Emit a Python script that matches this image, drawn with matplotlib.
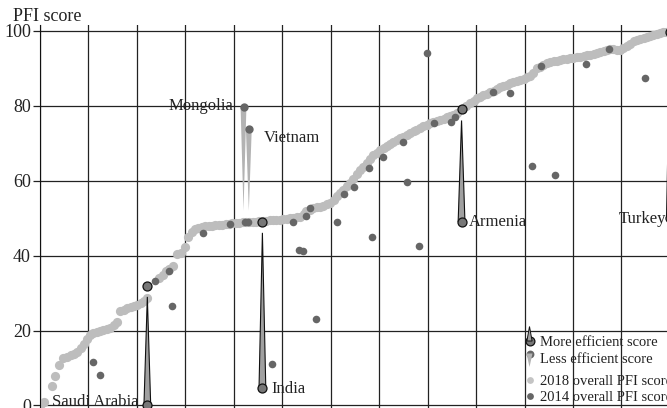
import matplotlib
matplotlib.use("Agg")
import matplotlib.pyplot as plt
from matplotlib.patches import Polygon

plt.rcParams['font.family'] = ['Liberation Serif', 'DejaVu Serif']

# countries ordered by 2018 score (x = rank position, grid every 10)
x2018 = [0.3, 0.8, 2.4, 3.0, 4.0, 4.8, 5.6, 6.3, 7.0, 7.7, 8.4, 9.1, 9.7, 10.3, 11.0,
         11.7, 12.4, 13.1, 13.8, 14.5, 15.2, 15.9, 16.6, 17.3, 18.0, 18.7, 19.4, 20.1,
         20.8, 21.5, 22.0, 24.6, 25.3, 26.0, 26.7, 27.4, 28.2, 29.0, 29.9, 30.6, 31.3,
         32.0, 32.7, 33.4, 34.1, 34.8, 35.5, 36.2, 36.9, 37.6, 38.3, 39.0, 39.7, 40.4,
         41.1, 41.8, 42.5, 43.2, 43.9, 44.6, 45.3, 46.0, 46.7, 47.4, 48.1, 48.8, 49.5,
         50.2, 50.9, 51.6, 52.3, 53.0, 53.7, 54.4, 55.0, 55.7, 56.4, 57.1, 57.8, 58.5,
         59.2, 59.9, 60.6, 61.2, 61.9, 62.6, 63.3, 64.0, 64.7, 65.4, 66.0, 66.7, 67.4,
         68.1, 68.8, 69.5, 70.2, 70.9, 71.6, 72.3, 72.9, 73.6, 74.3, 75.0, 75.7, 76.4,
         77.1, 77.7, 78.4, 79.1, 79.8, 80.5, 81.2, 81.9, 82.6, 83.3, 84.0, 84.6, 85.3,
         86.0, 87.9, 88.8, 89.5, 90.2, 90.8, 91.5, 92.2, 92.9, 93.6, 94.3, 94.9, 95.6,
         96.3, 97.0, 97.7, 98.4, 99.1, 99.8, 100.5, 101.2, 101.8, 102.5, 103.2, 103.9,
         104.6, 105.3, 106.0, 106.7, 107.4, 108.0, 108.7, 109.4, 110.1, 110.8, 111.5,
         112.2, 112.9, 113.6, 114.3, 114.9, 115.6, 116.3, 117.0, 117.6, 118.3, 119.0,
         119.7, 120.4, 121.1, 121.8, 122.5, 123.2, 123.9, 124.6, 125.2, 125.9, 126.6,
         127.3, 127.9, 128.6, 129.2]
pfi2018 = [0.4, 0.8, 5.2, 7.9, 10.8, 12.6, 13.0, 13.4, 13.8, 14.4, 15.4, 16.4, 17.8, 18.8, 19.3,
           19.6, 19.9, 20.1, 20.4, 20.7, 21.5, 22.3, 25.2, 25.6, 26.0, 26.3, 26.6, 26.9,
           27.4, 28.0, 28.6, 34.0, 34.9, 35.8, 36.5, 37.2, 40.5, 40.7, 42.4, 45.0, 46.3,
           47.0, 47.5, 47.7, 47.8, 47.9, 48.0, 48.1, 48.2, 48.3, 48.4, 48.5, 48.7, 48.8,
           48.8, 48.9, 48.9, 49.0, 49.1, 49.1, 49.2, 49.3, 49.3, 49.4, 49.5, 49.5, 49.6,
           49.7, 49.9, 50.0, 50.1, 50.2, 50.4, 51.2, 52.0, 52.3, 52.6, 52.9, 53.1, 53.4,
           53.7, 54.0, 55.0, 56.0, 56.7, 57.5, 58.5, 59.3, 60.5, 61.8, 62.9, 63.8, 64.7,
           65.8, 66.9, 67.5, 68.1, 68.7, 69.3, 69.8, 70.4, 70.9, 71.3, 71.8, 72.2, 72.7,
           73.2, 73.6, 74.0, 74.5, 74.9, 75.3, 75.6, 75.9, 76.2, 76.6, 76.9, 77.3, 77.6,
           78.2, 79.9, 80.7, 81.4, 82.0, 82.5, 82.9, 83.3, 83.6, 84.1, 84.6, 85.1, 85.4,
           85.7, 86.0, 86.3, 86.6, 86.8, 87.1, 87.6, 88.0, 88.8, 90.0, 90.5, 91.0,
           91.4, 91.8, 92.0, 92.1, 92.3, 92.4, 92.5, 92.7, 92.8, 93.0, 93.1,
           93.3, 93.5, 93.7, 93.9, 94.0, 94.3, 94.6, 94.9, 95.1, 95.1, 95.0,
           94.9, 95.4, 96.0, 96.6, 97.2, 97.6, 97.9, 98.1, 98.3, 98.6, 98.9,
           99.2, 99.4, 99.6, 99.7]

x2014 = [10.9, 12.4, 23.7, 26.7, 27.2, 33.6, 39.2, 42.3, 43.0, 47.9, 52.2, 53.5, 54.3,
         55.0, 55.7, 57.0, 61.3, 62.7, 64.8, 68.0, 68.5, 70.7, 74.9, 75.7, 78.3, 79.9,
         81.4, 84.8, 85.7, 93.4, 97.0, 101.5, 103.5, 106.3, 112.6, 117.5, 124.8]
pfi2014 = [11.7, 8.1, 33.2, 35.9, 26.6, 46.0, 48.5, 48.9, 48.9, 11.0, 48.9, 41.5, 41.3,
           50.7, 52.8, 23.0, 49.1, 56.5, 58.4, 63.3, 44.9, 66.3, 70.4, 59.8, 42.6, 94.0,
           75.5, 75.8, 77.0, 83.8, 83.4, 64.0, 90.7, 61.5, 91.1, 95.1, 87.4]

# highlighted countries
more_names = ['Saudi Arabia', 'India', 'Armenia', 'Turkey']
more_x = [22.15, 45.9, 87.0, 130.0]
more_2018 = [32.0, 49.1, 79.1, 99.8]
more_eff = [0.0, 4.6, 49.1, 50.0]

less_names = ['Mongolia', 'Vietnam']
less_x = [42.0, 43.1]
less_2018 = [49.0, 49.0]
less_eff = [79.6, 73.8]

legend_labels = ['More efficient score', 'Less efficient score',
                 '2018 overall PFI score', '2014 overall PFI score']

LIGHT = '#bdbdbd'
DARK = '#666666'
MID = '#777777'
TRI = '#a0a0a0'
SPIKE = '#b3b3b3'
TXT = '#222222'

W, H = 667, 408
fig = plt.figure(figsize=(W / 100, H / 100), dpi=100)
ax = fig.add_axes([0.05997, -0.0397, 0.9807, 0.9775])
ax.set_xlim(0, 135)
ax.set_ylim(-5, 101.5)

ax.set_xticks(range(0, 140, 10))
ax.set_yticks(range(0, 101, 20))
ax.grid(color='#222222', lw=0.9)
ax.set_axisbelow(True)
ax.tick_params(axis='x', length=0, labelbottom=False)
ax.tick_params(axis='y', length=5, width=0.9, pad=1.5, labelsize=13, colors=TXT)
for s in ['top', 'right', 'bottom']:
    ax.spines[s].set_visible(False)
ax.spines['left'].set_color('#111111')

ax.scatter(x2018, pfi2018, s=44, color=LIGHT, lw=0, zorder=2)
ax.scatter(x2014, pfi2014, s=30, color=DARK, lw=0, zorder=3)

gap = 3.0
# more efficient: triangle pointing up from efficient score toward 2018 score
for x, top, eff in zip(more_x, more_2018, more_eff):
    w = 0.7
    ax.fill([x - w, x + w, x], [eff, eff, top - gap], facecolor=TRI,
            edgecolor='#111111', lw=0.8, zorder=4)
ax.scatter(more_x, more_2018, s=42, color=MID, edgecolor='#111111', lw=0.9, zorder=5)
ax.scatter(more_x, more_eff, s=42, color=MID, edgecolor='#111111', lw=0.9, zorder=5)

# less efficient: light spike pointing down from efficient score
for x, low, eff in zip(less_x, less_2018, less_eff):
    w = 0.6
    ax.fill([x - w, x + w, x], [eff, eff, low + gap], facecolor=SPIKE,
            edgecolor='none', zorder=2.5)
ax.scatter(less_x, less_eff, s=36, color=DARK, lw=0, zorder=5)

# labels
offs = {'Saudi Arabia': (-6.7, -0.7, 'right'), 'India': (6.3, -3.6, 'left'),
        'Armenia': (5.5, -3.2, 'left'), 'Turkey': (-2.8, -3.6, 'right'),
        'Mongolia': (-7.2, -1.7, 'right'), 'Vietnam': (10.5, -9.0, 'left')}
for n, x, y in zip(more_names + less_names, more_x + less_x, more_eff + less_eff):
    dx, dy, ha = offs[n]
    ax.annotate(n, (x, y), xytext=(dx, dy), textcoords='offset points',
                ha=ha, va='baseline', fontsize=12, color=TXT, zorder=6)

fig.text(13 / W, 1 - 20.7 / H, 'PFI score', fontsize=13, color=TXT, va='baseline')


# legend, drawn by hand in figure pixels (from top-left)
def fp(x, y):
    return (x / W, 1 - y / H)


tf = fig.transFigure
kx = 529.5
fig.add_artist(Polygon([fp(kx - 2.6, 341), fp(kx + 2.6, 341), fp(kx, 326.5)], closed=True,
                       facecolor=TRI, edgecolor='#111111', lw=0.7, transform=tf, zorder=6))
ax.scatter(*fp(kx, 341), s=40, color=MID, edgecolor='#111111', lw=0.9,
           transform=tf, clip_on=False, zorder=7)
fig.add_artist(Polygon([fp(kx - 3, 353.5), fp(kx + 3, 353.5), fp(kx, 367)], closed=True,
                       facecolor=SPIKE, edgecolor='none', transform=tf, zorder=6))
ax.scatter(*fp(kx, 353.5), s=32, color=DARK, lw=0, transform=tf, clip_on=False, zorder=7)
ax.scatter(*fp(kx, 379.5), s=24, color='#c4c4c4', lw=0, transform=tf, clip_on=False, zorder=7)
ax.scatter(*fp(kx, 396), s=24, color=DARK, lw=0, transform=tf, clip_on=False, zorder=7)
for lab, yc in zip(legend_labels, [341, 358, 380, 396.5]):
    fig.text(*fp(539.5, yc + 4.8), lab, fontsize=10.5, color=TXT, va='baseline')

fig.savefig('out.png', dpi=100)
